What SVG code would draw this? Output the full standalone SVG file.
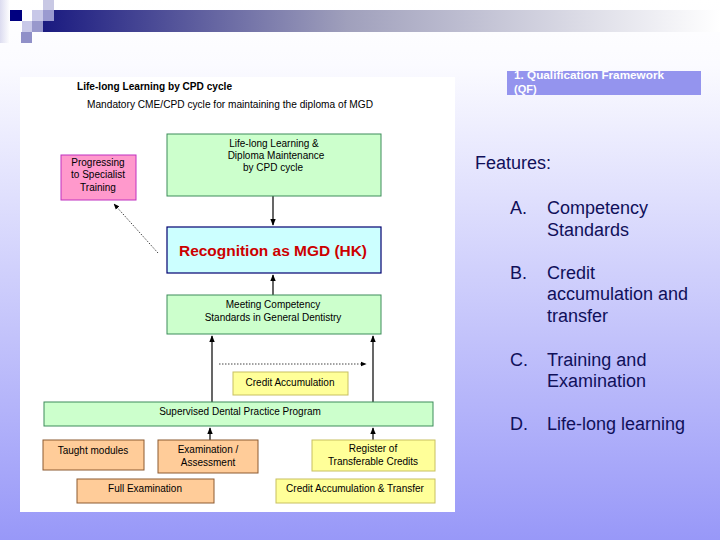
<svg xmlns="http://www.w3.org/2000/svg" width="720" height="540" viewBox="0 0 720 540">
<defs>
<linearGradient id="bg" x1="0" y1="0" x2="0" y2="1">
<stop offset="0" stop-color="#ffffff"/>
<stop offset="0.12" stop-color="#fbfbff"/>
<stop offset="1" stop-color="#9898f8"/>
</linearGradient>
<linearGradient id="bar" x1="0" y1="0" x2="1" y2="0">
<stop offset="0" stop-color="#1a1a80"/>
<stop offset="0.45" stop-color="#a0a0bc"/>
<stop offset="1" stop-color="#ffffff"/>
</linearGradient>
<linearGradient id="edge" x1="0" y1="0" x2="1" y2="0">
<stop offset="0" stop-color="#dcdcf0"/>
<stop offset="1" stop-color="#ffffff"/>
</linearGradient>
<marker id="ah" viewBox="0 0 10 10" refX="9" refY="5" markerWidth="6" markerHeight="6" orient="auto">
<path d="M0,1 L10,5 L0,9 z" fill="#000"/>
</marker>
<style>
.t{font-family:"Liberation Sans",Arial,sans-serif;font-size:10px;fill:#000;text-anchor:middle}
.f{font-family:"Liberation Sans",Arial,sans-serif;font-size:18px;fill:#10105a}
.green{fill:#ccffcc;stroke:#3c8c5a;stroke-width:1}
.pink{fill:#ff99cc;stroke:#c030c0;stroke-width:1}
.blue{fill:#ccffff;stroke:#000070;stroke-width:1.2}
.orange{fill:#ffcc99;stroke:#8c5a30;stroke-width:1}
.yellow{fill:#ffff99;stroke:#c8c060;stroke-width:1}
.ln{stroke:#000;stroke-width:1.2;fill:none}
.dot{stroke:#444;stroke-width:1;stroke-dasharray:1.5 1.5;fill:none}
</style>
</defs>
<rect x="0" y="0" width="720" height="540" fill="url(#bg)"/>
<!-- header -->
<rect x="0" y="0" width="10" height="43" fill="url(#edge)"/>
<rect x="43" y="10" width="677" height="22" fill="url(#bar)"/>
<rect x="10" y="10" width="12" height="11" fill="#000080"/>
<rect x="43" y="0" width="11" height="10" fill="#c8c8e4"/>
<rect x="32" y="10" width="11" height="11" fill="#c8c8e8"/>
<rect x="43" y="10" width="11" height="11" fill="#9a9ad0"/>
<rect x="22" y="21" width="10" height="11" fill="#c8c8e8"/>
<rect x="32" y="21" width="11" height="11" fill="#9898cc"/>
<rect x="21" y="32" width="11" height="11" fill="#9090c8"/>
<!-- white panel -->
<rect x="20" y="77" width="435" height="435" fill="#ffffff"/>
<text x="77" y="90" class="t" style="text-anchor:start;font-weight:bold" textLength="155" lengthAdjust="spacingAndGlyphs">Life-long Learning by CPD cycle</text>
<text x="87" y="108" class="t" style="text-anchor:start" textLength="286" lengthAdjust="spacingAndGlyphs">Mandatory CME/CPD cycle for maintaining the diploma of MGD</text>
<!-- connectors -->
<g id="connectors">
<line x1="273" y1="196" x2="273" y2="225" class="ln" marker-end="url(#ah)"/>
<line x1="273" y1="295" x2="273" y2="275" class="ln" marker-end="url(#ah)"/>
<line x1="158" y1="253" x2="114" y2="204" class="dot" marker-end="url(#ah)"/>
<line x1="212" y1="402" x2="212" y2="336" class="ln" marker-end="url(#ah)"/>
<line x1="373" y1="402" x2="373" y2="336" class="ln" marker-end="url(#ah)"/>
<line x1="219" y1="364" x2="366" y2="364" class="dot" marker-end="url(#ah)"/>
<line x1="210" y1="440" x2="210" y2="428" class="ln" marker-end="url(#ah)"/>
<line x1="373" y1="440" x2="373" y2="428" class="ln" marker-end="url(#ah)"/>
</g>
<g id="lifelong">
<rect x="167" y="134" width="214" height="62" class="green"/>
<text x="274" y="147" class="t">Life-long Learning &amp;</text>
<text x="276" y="159" class="t">Diploma Maintenance</text>
<text x="273" y="171" class="t">by CPD cycle</text>
</g>
<g id="progressing">
<rect x="61" y="155" width="75" height="45" class="pink"/>
<text x="98" y="166" class="t">Progressing</text>
<text x="98" y="178" class="t">to Specialist</text>
<text x="98" y="191" class="t">Training</text>
</g>
<g id="recognition">
<rect x="167" y="227" width="214" height="46" class="blue"/>
<text x="273" y="256" class="t" style="font-size:14px;font-weight:bold;fill:#cc0000" textLength="188" lengthAdjust="spacingAndGlyphs">Recognition as MGD (HK)</text>
</g>
<g id="meeting">
<rect x="167" y="295" width="214" height="39" class="green"/>
<text x="273" y="308" class="t">Meeting Competency</text>
<text x="273" y="321" class="t">Standards in General Dentistry</text>
</g>
<g id="creditacc">
<rect x="233" y="372" width="115" height="23" class="yellow"/>
<text x="290" y="386" class="t">Credit Accumulation</text>
</g>
<g id="supervised">
<rect x="44" y="402" width="389" height="24" class="green"/>
<text x="240" y="415" class="t">Supervised Dental Practice Program</text>
</g>
<g id="taught">
<rect x="43" y="440" width="101" height="30" class="orange"/>
<text x="93" y="454" class="t">Taught modules</text>
</g>
<g id="exam">
<rect x="158" y="440" width="100" height="33" class="orange"/>
<text x="208" y="453" class="t">Examination /</text>
<text x="208" y="466" class="t">Assessment</text>
</g>
<g id="register">
<rect x="312" y="440" width="123" height="31" class="yellow"/>
<text x="373" y="452" class="t">Register of</text>
<text x="373" y="465" class="t">Transferable Credits</text>
</g>
<g id="fullexam">
<rect x="77" y="479" width="137" height="24" class="orange"/>
<text x="145" y="492" class="t">Full Examination</text>
</g>
<g id="cat">
<rect x="276" y="479" width="159" height="24" class="yellow"/>
<text x="355" y="492" class="t">Credit Accumulation &amp; Transfer</text>
</g>
<!-- right side -->
<g id="qf">
<rect x="507" y="71" width="194" height="24" fill="#9494ee"/>
<text x="514" y="79" style="font-family:'Liberation Sans',Arial,sans-serif;font-size:11px;font-weight:bold;fill:#ffffff" textLength="150" lengthAdjust="spacingAndGlyphs">1. Qualification Framework</text>
<text x="514" y="93" style="font-family:'Liberation Sans',Arial,sans-serif;font-size:11px;font-weight:bold;fill:#ffffff">(QF)</text>
</g>
<text x="475" y="169" class="f">Features:</text>
<text x="510" y="214" class="f">A.</text>
<text x="547" y="214" class="f">Competency</text>
<text x="547" y="236" class="f">Standards</text>
<text x="510" y="279" class="f">B.</text>
<text x="547" y="279" class="f">Credit</text>
<text x="547" y="300" class="f">accumulation and</text>
<text x="547" y="322" class="f">transfer</text>
<text x="510" y="366" class="f">C.</text>
<text x="547" y="366" class="f">Training and</text>
<text x="547" y="387" class="f">Examination</text>
<text x="510" y="430" class="f">D.</text>
<text x="547" y="430" class="f">Life-long learning</text>
</svg>
